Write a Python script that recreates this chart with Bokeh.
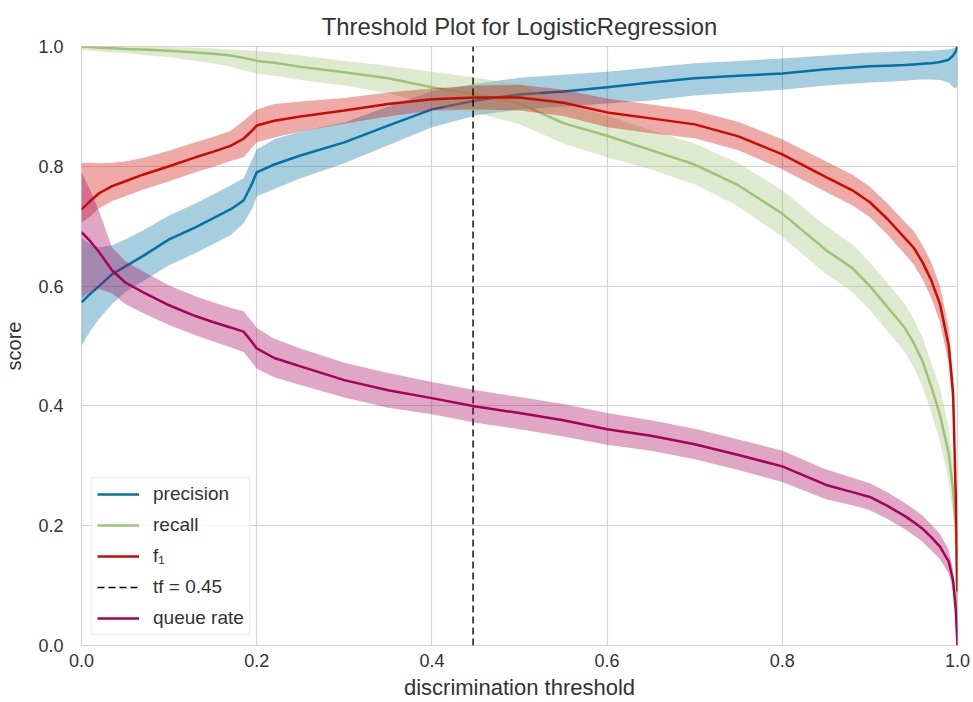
from bokeh.plotting import figure
from bokeh.models import Range1d, FixedTicker, PrintfTickFormatter, Legend, LegendItem
from bokeh.embed import file_html
from bokeh.resources import INLINE

# ---------------- data ----------------
thresholds = [0.0, 0.01, 0.02, 0.035, 0.05, 0.07, 0.1, 0.13, 0.15, 0.17, 0.185, 0.195, 0.2, 0.22, 0.25,
              0.3, 0.35, 0.4, 0.45, 0.5, 0.55, 0.6, 0.65, 0.7, 0.75, 0.8, 0.85, 0.88, 0.9, 0.92,
              0.94, 0.95, 0.96, 0.97, 0.98, 0.99, 0.995, 0.998, 1.0]

precision = [0.573, 0.587, 0.600, 0.620, 0.633, 0.650, 0.678, 0.698, 0.713, 0.728, 0.743, 0.772, 0.790, 0.803, 0.818,
             0.840, 0.868, 0.895, 0.910, 0.920, 0.925, 0.932, 0.940, 0.947, 0.951, 0.955, 0.962, 0.965, 0.967, 0.968,
             0.969, 0.970, 0.971, 0.972, 0.974, 0.978, 0.985, 0.992, 1.0]
precision_lo = [0.500, 0.525, 0.545, 0.570, 0.590, 0.608, 0.635, 0.655, 0.670, 0.685, 0.705, 0.730, 0.750, 0.762, 0.780,
                0.805, 0.835, 0.865, 0.885, 0.895, 0.900, 0.905, 0.910, 0.918, 0.923, 0.928, 0.935, 0.938, 0.940, 0.941,
                0.943, 0.944, 0.945, 0.945, 0.944, 0.940, 0.932, 0.930, 0.935]
precision_hi = [0.680, 0.670, 0.665, 0.668, 0.678, 0.693, 0.718, 0.738, 0.753, 0.768, 0.780, 0.812, 0.828, 0.845, 0.858,
                0.873, 0.900, 0.925, 0.938, 0.948, 0.953, 0.958, 0.965, 0.972, 0.976, 0.980, 0.985, 0.988, 0.990, 0.991,
                0.992, 0.992, 0.993, 0.993, 0.994, 0.995, 0.997, 0.999, 1.0]

recall = [1.000, 0.999, 0.998, 0.997, 0.996, 0.995, 0.993, 0.990, 0.988, 0.985, 0.981, 0.978, 0.976, 0.973, 0.966,
          0.957, 0.947, 0.932, 0.920, 0.905, 0.872, 0.851, 0.827, 0.803, 0.768, 0.721, 0.660, 0.630, 0.600, 0.565,
          0.530, 0.505, 0.475, 0.432, 0.385, 0.320, 0.260, 0.200, 0.0]
recall_lo = [0.995, 0.993, 0.992, 0.990, 0.989, 0.986, 0.982, 0.976, 0.972, 0.966, 0.960, 0.957, 0.955, 0.951, 0.944,
             0.935, 0.922, 0.903, 0.890, 0.870, 0.838, 0.815, 0.795, 0.770, 0.733, 0.682, 0.620, 0.590, 0.560, 0.525,
             0.490, 0.465, 0.432, 0.390, 0.340, 0.275, 0.215, 0.175, 0.0]
recall_hi = [1.000, 1.000, 1.000, 1.000, 1.000, 1.000, 0.999, 0.998, 0.997, 0.995, 0.994, 0.993, 0.993, 0.990, 0.985,
             0.976, 0.968, 0.958, 0.948, 0.937, 0.905, 0.885, 0.860, 0.838, 0.805, 0.760, 0.700, 0.670, 0.640, 0.605,
             0.570, 0.545, 0.515, 0.472, 0.430, 0.365, 0.305, 0.225, 0.0]

f1 = [0.728, 0.742, 0.755, 0.767, 0.775, 0.786, 0.800, 0.815, 0.824, 0.834, 0.846, 0.860, 0.868, 0.876, 0.883,
      0.893, 0.904, 0.912, 0.915, 0.915, 0.906, 0.890, 0.880, 0.870, 0.850, 0.820, 0.782, 0.760, 0.740, 0.712,
      0.680, 0.664, 0.640, 0.610, 0.570, 0.500, 0.420, 0.250, 0.090]
f1_lo = [0.706, 0.716, 0.730, 0.742, 0.750, 0.761, 0.775, 0.790, 0.799, 0.809, 0.815, 0.832, 0.840, 0.848, 0.858,
         0.871, 0.883, 0.893, 0.895, 0.893, 0.884, 0.865, 0.855, 0.847, 0.827, 0.795, 0.757, 0.735, 0.715, 0.686,
         0.653, 0.636, 0.612, 0.581, 0.540, 0.470, 0.390, 0.220, 0.080]
f1_hi = [0.806, 0.806, 0.805, 0.806, 0.808, 0.814, 0.826, 0.840, 0.849, 0.859, 0.876, 0.888, 0.895, 0.904, 0.908,
         0.914, 0.923, 0.930, 0.935, 0.936, 0.928, 0.913, 0.903, 0.893, 0.874, 0.845, 0.808, 0.786, 0.766, 0.738,
         0.707, 0.692, 0.668, 0.640, 0.600, 0.530, 0.450, 0.280, 0.100]

queue_rate = [0.690, 0.675, 0.657, 0.626, 0.606, 0.590, 0.568, 0.550, 0.540, 0.531, 0.524, 0.506, 0.496, 0.480, 0.466,
              0.443, 0.426, 0.413, 0.399, 0.388, 0.376, 0.361, 0.350, 0.336, 0.318, 0.299, 0.268, 0.256, 0.248, 0.233,
              0.216, 0.206, 0.195, 0.181, 0.165, 0.140, 0.108, 0.060, 0.000]
queue_lo = [0.580, 0.590, 0.595, 0.588, 0.570, 0.555, 0.535, 0.518, 0.508, 0.498, 0.490, 0.472, 0.462, 0.448, 0.435,
            0.414, 0.397, 0.386, 0.372, 0.361, 0.349, 0.335, 0.325, 0.311, 0.293, 0.273, 0.244, 0.234, 0.226, 0.211,
            0.194, 0.184, 0.173, 0.159, 0.144, 0.120, 0.090, 0.045, 0.000]
queue_hi = [0.790, 0.760, 0.725, 0.664, 0.642, 0.625, 0.601, 0.583, 0.573, 0.564, 0.558, 0.540, 0.530, 0.512, 0.496,
            0.472, 0.455, 0.440, 0.426, 0.415, 0.403, 0.388, 0.376, 0.362, 0.344, 0.325, 0.294, 0.280, 0.271, 0.256,
            0.238, 0.228, 0.217, 0.202, 0.186, 0.160, 0.126, 0.075, 0.000]

best_threshold = 0.447
score_limits = [0.0, 1.0]
threshold_limits = [0.0, 1.0]
tick_values = [0.0, 0.2, 0.4, 0.6, 0.8, 1.0]

labels = ["precision", "recall", "f\u2081", "tf = 0.45", "queue rate"]
colors = ["#0272a2", "#9fc377", "#ca0b03", "#a50258"]

FONT = "Liberation Sans"
TEXT = "#333333"

# ---------------- figure ----------------
p = figure(width=973, height=702, output_backend="svg", toolbar_location=None,
           x_range=Range1d(*threshold_limits), y_range=Range1d(*score_limits),
           min_border_left=79, min_border_right=16, min_border_top=46, min_border_bottom=57,
           title="Threshold Plot for LogisticRegression")
p.background_fill_color = "white"
p.border_fill_color = "white"
p.outline_line_color = "#d4d4d4"
p.outline_line_width = 1.2

p.title.align = "center"
p.title.text_font = FONT
p.title.text_font_size = "23.8px"
p.title.text_font_style = "normal"
p.title.text_color = TEXT
p.title.standoff = 14

for ax in (p.xaxis[0], p.yaxis[0]):
    ax.ticker = FixedTicker(ticks=tick_values)
    ax.formatter = PrintfTickFormatter(format="%.1f")
    ax.axis_line_color = None
    ax.major_tick_line_color = None
    ax.minor_tick_line_color = None
    ax.major_label_text_font = FONT
    ax.major_label_text_font_size = "18px"
    ax.major_label_text_color = TEXT
    ax.axis_label_text_font = FONT
    ax.axis_label_text_font_style = "normal"
    ax.axis_label_text_color = TEXT

p.xaxis.axis_label = "discrimination threshold"
p.yaxis.axis_label = "score"
p.xaxis.axis_label_text_font_size = "22px"
p.yaxis.axis_label_text_font_size = "20px"
p.xaxis.major_label_standoff = 2
p.xaxis.axis_label_standoff = 5
p.yaxis.major_label_standoff = 12
p.yaxis.axis_label_standoff = 10

for g in (p.xgrid[0], p.ygrid[0]):
    g.ticker = FixedTicker(ticks=tick_values)
    g.grid_line_color = "#d4d4d4"
    g.grid_line_width = 1.2

series = [(precision, precision_lo, precision_hi),
          (recall, recall_lo, recall_hi),
          (f1, f1_lo, f1_hi)]
line_renderers = []
for (vals, lo, hi), c in zip(series, colors[:3]):
    r = p.line(thresholds, vals, line_color=c, line_width=2.5)
    p.varea(x=thresholds, y1=lo, y2=hi, fill_color=c, fill_alpha=0.35)
    line_renderers.append(r)

r_t = p.line([best_threshold, best_threshold], score_limits, line_color="black",
             line_width=1.4, line_dash="7 4")
line_renderers.append(r_t)

r_q = p.line(thresholds, queue_rate, line_color=colors[3], line_width=2.5)
p.varea(x=thresholds, y1=queue_lo, y2=queue_hi, fill_color=colors[3], fill_alpha=0.35)
line_renderers.append(r_q)

legend = Legend(items=[LegendItem(label=l, renderers=[r]) for l, r in zip(labels, line_renderers)],
                location="bottom_left")
legend.label_text_font = FONT
legend.label_text_font_size = "19px"
legend.label_text_color = TEXT
legend.glyph_width = 42
legend.glyph_height = 20
legend.label_height = 20
legend.label_standoff = 14
legend.spacing = 9
legend.padding = 5
legend.margin = 10
legend.border_line_color = "#e0e0e0"
legend.background_fill_color = "white"
legend.background_fill_alpha = 0.8
p.add_layout(legend)

open("out.html", "w").write(file_html(p, INLINE))
